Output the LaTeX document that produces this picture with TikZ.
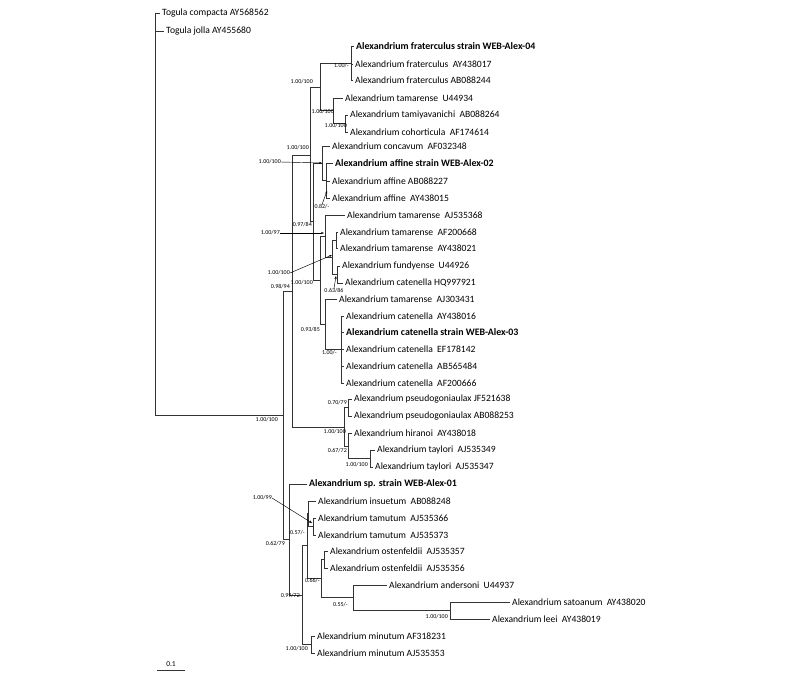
\documentclass[tikz,border=0pt]{standalone}
\usepackage{fontspec}
\setmainfont{Carlito}
\usetikzlibrary{arrows.meta, positioning}

\begin{document}
\begin{tikzpicture}[x=1pt, y=-1pt,
    leaf/.style={anchor=west, inner sep=2pt, font=\fontsize{9.6}{10}\selectfont},
    bleaf/.style={leaf, font=\fontsize{9.9}{10}\selectfont\bfseries},
    supp/.style={anchor=east, inner sep=0pt, font=\fontsize{6}{6}\selectfont},
    branch/.style={line width=0.6pt, color=black!80},
    pointer/.style={-{Stealth[length=3pt, width=2.2pt]}, line width=0.45pt}
]
\useasboundingbox (0,0) rectangle (800,672);

% Internal nodes
\coordinate (root) at (155,214);
\coordinate (nA) at (283,415.5);
\coordinate (n98) at (292,291);
\coordinate (nS) at (310,155);
\coordinate (nP1) at (320,87);
\coordinate (nF) at (351,63);
\coordinate (nT) at (333,110.75);
\coordinate (nTC) at (345,123.5);
\coordinate (nU) at (313,221.5);
\coordinate (nQ) at (322,163);
\coordinate (nR) at (326,180.5);
\coordinate (nX) at (320,280);
\coordinate (nV) at (325,236);
\coordinate (nW) at (332,257);
\coordinate (nWP) at (336,240);
\coordinate (nY) at (337,274.5);
\coordinate (nZ) at (325,324);
\coordinate (nCg) at (341,349.5);
\coordinate (nH) at (344,427);
\coordinate (nPS) at (348,407.5);
\coordinate (nHT) at (348,446);
\coordinate (nTay) at (370,458.5);
\coordinate (nB) at (289,539.5);
\coordinate (nC) at (302,595);
\coordinate (nD) at (307,545.75);
\coordinate (nI) at (308,513.5);
\coordinate (nTP) at (313,526.5);
\coordinate (nO) at (321,578.75);
\coordinate (nOP) at (324,559.5);
\coordinate (nAN) at (353,597.75);
\coordinate (nSL) at (450,610.5);
\coordinate (nE) at (311,644.5);

% Taxa
\node[leaf] (tcomp) at (160,13) {Togula compacta AY568562};
\node[leaf] (tjol) at (164,31) {Togula jolla AY455680};
\node[bleaf] (afr4) at (354,46) {Alexandrium fraterculus strain WEB-Alex-04};
\node[leaf] (afr1) at (353,64) {Alexandrium fraterculus\ \ AY438017};
\node[leaf] (afr2) at (353,80) {Alexandrium fraterculus AB088244};
\node[leaf] (atam1) at (343,98) {Alexandrium tamarense\ \ U44934};
\node[leaf] (atmy) at (348,115) {Alexandrium tamiyavanichi\ \ AB088264};
\node[leaf] (acoh) at (348,132) {Alexandrium cohorticula\ \ AF174614};
\node[leaf] (acon) at (330,146) {Alexandrium concavum\ \ AF032348};
\node[bleaf] (aaf2) at (333,163) {Alexandrium affine strain WEB-Alex-02};
\node[leaf] (aaf1) at (330,181) {Alexandrium affine AB088227};
\node[leaf] (aaf3) at (330,198) {Alexandrium affine\ \ AY438015};
\node[leaf] (atam2) at (345,215) {Alexandrium tamarense\ \ AJ535368};
\node[leaf] (atam3) at (338,232) {Alexandrium tamarense\ \ AF200668};
\node[leaf] (atam4) at (338,248) {Alexandrium tamarense\ \ AY438021};
\node[leaf] (afun) at (340,266) {Alexandrium fundyense\ \ U44926};
\node[leaf] (acat1) at (343,283) {Alexandrium catenella HQ997921};
\node[leaf] (atam5) at (337,299) {Alexandrium tamarense\ \ AJ303431};
\node[leaf] (acat2) at (344,316) {Alexandrium catenella\ \ AY438016};
\node[bleaf] (acat3) at (344,332) {Alexandrium catenella strain WEB-Alex-03};
\node[leaf] (acat4) at (344,349) {Alexandrium catenella\ \ EF178142};
\node[leaf] (acat5) at (344,366) {Alexandrium catenella\ \ AB565484};
\node[leaf] (acat6) at (344,383) {Alexandrium catenella\ \ AF200666};
\node[leaf] (apse1) at (352,399) {Alexandrium pseudogoniaulax JF521638};
\node[leaf] (apse2) at (352,416) {Alexandrium pseudogoniaulax AB088253};
\node[leaf] (ahir) at (352,433) {Alexandrium hiranoi\ \ AY438018};
\node[leaf] (atay1) at (375,450) {Alexandrium taylori\ \ AJ535349};
\node[leaf] (atay2) at (373,467) {Alexandrium taylori\ \ AJ535347};
\node[bleaf] (asp1) at (307,484) {Alexandrium sp. strain WEB-Alex-01};
\node[leaf] (ains) at (316,501) {Alexandrium insuetum\ \ AB088248};
\node[leaf] (atmt1) at (316,518) {Alexandrium tamutum\ \ AJ535366};
\node[leaf] (atmt2) at (316,535) {Alexandrium tamutum\ \ AJ535373};
\node[leaf] (aost1) at (328,551) {Alexandrium ostenfeldii\ \ AJ535357};
\node[leaf] (aost2) at (328,568) {Alexandrium ostenfeldii\ \ AJ535356};
\node[leaf] (aand) at (387,585) {Alexandrium andersoni\ \ U44937};
\node[leaf] (asat) at (510,602) {Alexandrium satoanum\ \ AY438020};
\node[leaf] (alee) at (490,619) {Alexandrium leei\ \ AY438019};
\node[leaf] (amin1) at (315,636) {Alexandrium minutum AF318231};
\node[leaf] (amin2) at (315,653) {Alexandrium minutum AJ535353};

% Branches
\draw[branch] (root) |- (tcomp.west);
\draw[branch] (root) |- (tjol.west);
\draw[branch] (root) |- (nA);
\draw[branch] (nA) |- (n98);
\draw[branch] (nA) |- (nB);
\draw[branch] (n98) |- (nS);
\draw[branch] (n98) |- (nH);
\draw[branch] (nS) |- (nP1);
\draw[branch] (nS) |- (nU);
\draw[branch] (nP1) |- (nF);
\draw[branch] (nP1) |- (nT);
\draw[branch] (nF) |- (afr4.west);
\draw[branch] (nF) |- (afr1.west);
\draw[branch] (nF) |- (afr2.west);
\draw[branch] (nT) |- (atam1.west);
\draw[branch] (nT) |- (nTC);
\draw[branch] (nTC) |- (atmy.west);
\draw[branch] (nTC) |- (acoh.west);
\draw[branch] (nU) |- (nQ);
\draw[branch] (nU) |- (nX);
\draw[branch] (nQ) |- (acon.west);
\draw[branch] (nQ) |- (nR);
\draw[branch] (nR) |- (aaf2.west);
\draw[branch] (nR) |- (aaf1.west);
\draw[branch] (nR) |- (aaf3.west);
\draw[branch] (nX) |- (nV);
\draw[branch] (nX) |- (nZ);
\draw[branch] (nV) |- (atam2.west);
\draw[branch] (nV) |- (nW);
\draw[branch] (nW) |- (nWP);
\draw[branch] (nW) |- (nY);
\draw[branch] (nWP) |- (atam3.west);
\draw[branch] (nWP) |- (atam4.west);
\draw[branch] (nY) |- (afun.west);
\draw[branch] (nY) |- (acat1.west);
\draw[branch] (nZ) |- (atam5.west);
\draw[branch] (nZ) |- (nCg);
\foreach \t in {acat2,acat3,acat4,acat5,acat6}
  \draw[branch] (nCg) |- (\t.west);
\draw[branch] (nH) |- (nPS);
\draw[branch] (nH) |- (nHT);
\draw[branch] (nPS) |- (apse1.west);
\draw[branch] (nPS) |- (apse2.west);
\draw[branch] (nHT) |- (ahir.west);
\draw[branch] (nHT) |- (nTay);
\draw[branch] (nTay) |- (atay1.west);
\draw[branch] (nTay) |- (atay2.west);
\draw[branch] (nB) |- (asp1.west);
\draw[branch] (nB) |- (nC);
\draw[branch] (nC) |- (nD);
\draw[branch] (nC) |- (nE);
\draw[branch] (nD) |- (nI);
\draw[branch] (nD) |- (nO);
\draw[branch] (nI) |- (ains.west);
\draw[branch] (nI) |- (nTP);
\draw[branch] (nTP) |- (atmt1.west);
\draw[branch] (nTP) |- (atmt2.west);
\draw[branch] (nO) |- (nOP);
\draw[branch] (nO) |- (nAN);
\draw[branch] (nOP) |- (aost1.west);
\draw[branch] (nOP) |- (aost2.west);
\draw[branch] (nAN) |- (aand.west);
\draw[branch] (nAN) |- (nSL);
\draw[branch] (nSL) |- (asat.west);
\draw[branch] (nSL) |- (alee.west);
\draw[branch] (nE) |- (amin1.west);
\draw[branch] (nE) |- (amin2.west);

% Support values
\node[supp] (sF) at (349,66) {1.00/-};
\node[supp] (sP1) at (313,82) {1.00/100};
\node[supp] (sT) at (334,112) {1.00/100};
\node[supp] (sTC) at (347,126) {1.00/100};
\node[supp] (sS) at (309,148) {1.00/100};
\node[supp] (sQ) at (281,162) {1.00/100};
\node[supp, anchor=center] (sR) at (322,207) {0.82/-};
\node[supp] (sU) at (312,225) {0.97/84};
\node[supp] (sV) at (280,233) {1.00/97};
\node[supp] (sW) at (290,273) {1.00/100};
\node[supp] (sX) at (313,283) {1.00/100};
\node[supp] (s98) at (290,287) {0.98/94};
\node[supp, anchor=center] (sY) at (334,291) {0.63/86};
\node[supp] (sZ) at (320,330) {0.93/85};
\node[supp] (sCg) at (337,353) {1.00/-};
\node[supp] (sPS) at (347,403) {0.70/79};
\node[supp] (sA) at (278,420) {1.00/100};
\node[supp] (sH) at (346,432) {1.00/100};
\node[supp] (sHT) at (347,451) {0.67/72};
\node[supp] (sTay) at (368,465) {1.00/100};
\node[supp] (sI) at (272,498) {1.00/99};
\node[supp] (sD) at (305,533) {0.57/-};
\node[supp] (sB) at (285,544) {0.62/79};
\node[supp] (sO) at (320,581) {0.66/-};
\node[supp] (sC) at (300,596) {0.99/72};
\node[supp] (sAN) at (348,605) {0.55/-};
\node[supp] (sSL) at (448,617) {1.00/100};
\node[supp] (sE) at (308,649) {1.00/100};

% Pointers to crowded nodes
\draw[pointer] (sQ.east) -- (nQ);
\draw[pointer] (sR.north) -- (327,191);
\draw[pointer] (sV.east) -- (324,233);
\draw[pointer] (sW.east) -- (332,255);
\draw[pointer] (sY.north) -- (336,276);
\draw[pointer] (sI.east) -- (312,523);

% Scale bar
\node[supp, anchor=south, font=\fontsize{7.5}{8}\selectfont] (sbar) at (171,667) {0.1};
\draw[branch] (157,670) -- (185,670);

\end{tikzpicture}
\end{document}
